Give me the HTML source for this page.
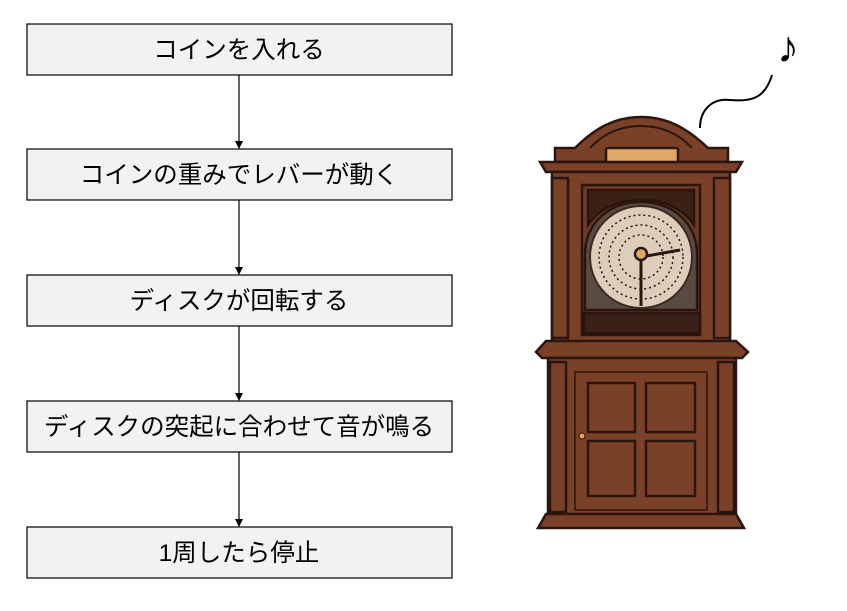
<!DOCTYPE html>
<html><head><meta charset="utf-8"><style>
body{margin:0;background:#fff;}
svg{display:block;font-family:"Liberation Sans","Noto Sans CJK JP",sans-serif;}
</style></head><body>
<svg width="847" height="611" viewBox="0 0 847 611">
<defs><marker id="a" markerWidth="8" markerHeight="8" refX="7" refY="4" orient="auto" markerUnits="userSpaceOnUse"><path d="M0,0L8,4L0,8z" fill="#000"/></marker></defs>
<g stroke="#000" stroke-width="1.2" fill="#f2f2f2">
<rect x="27" y="24" width="425" height="51"/>
<rect x="27" y="149" width="425" height="51"/>
<rect x="27" y="275" width="425" height="51"/>
<rect x="27" y="401" width="425" height="51"/>
<rect x="27" y="527" width="425" height="51"/>
</g>
<g stroke="#000" stroke-width="1.2" marker-end="url(#a)">
<line x1="239" y1="75" x2="239" y2="148"/>
<line x1="239" y1="200" x2="239" y2="274"/>
<line x1="239" y1="326" x2="239" y2="400"/>
<line x1="239" y1="452" x2="239" y2="526"/>
</g>
<g font-size="24.5" text-anchor="middle" fill="#000">
<text x="239" y="58">コインを入れる</text>
<text x="239" y="183">コインの重みでレバーが動く</text>
<text x="239" y="309">ディスクが回転する</text>
<text x="239" y="435">ディスクの突起に合わせて音が鳴る</text>
<text x="239" y="561">1周したら停止</text>
</g>
<!-- note -->
<path d="M700,128 C700,110 712,98 730,100 C752,102 765,98 772,75" fill="none" stroke="#000" stroke-width="2"/>
<text x="788" y="62" font-size="44" font-weight="bold" text-anchor="middle">♪</text>
<!-- cabinet -->
<g stroke="#2a160e" stroke-width="2.5" fill="#7a4128">
<path d="M555,162 L555,148 L575,148 C595,128 615,117 641,117 C667,117 687,128 708,148 L728,148 L728,162 Z"/>
<path d="M590,148 C605,132 622,126 641,126 C660,126 677,132 692,148" fill="none" stroke-width="2"/>
<rect x="606" y="148" width="72" height="17" rx="2" fill="#e0a864"/>
<path d="M540,162 L742,162 L736,172 L546,172 Z"/>
<rect x="552" y="172" width="178" height="170"/>
<rect x="552" y="178" width="16" height="160"/>
<rect x="714" y="178" width="16" height="160"/>
<rect x="582" y="185" width="118" height="150" fill="#6e3a24"/>
<path d="M588,190 L694,190 L694,225 C680,205 660,200 641,200 C622,200 602,205 588,225 Z" fill="#3a2016"/>
<path d="M585,310 L585,255 C585,222 610,202 641,202 C672,202 697,222 697,255 L697,310 Z" fill="#5a4b42"/>
<circle cx="641" cy="257" r="51" fill="#dfcdbb" stroke="#3a2a20" stroke-width="2"/>
<circle cx="641" cy="257" r="42" fill="none" stroke="#2a160e" stroke-width="1.5" stroke-dasharray="2 3"/>
<circle cx="641" cy="257" r="32" fill="none" stroke="#2a160e" stroke-width="1.5" stroke-dasharray="2 3"/>
<circle cx="641" cy="257" r="22" fill="none" stroke="#2a160e" stroke-width="1.5" stroke-dasharray="2 3"/>
<line x1="641" y1="257" x2="680" y2="250" stroke-width="3"/>
<line x1="641" y1="257" x2="641" y2="306" stroke-width="3"/>
<circle cx="641" cy="254" r="6" fill="#e0a864"/>
<rect x="584" y="313" width="116" height="20" fill="#3a2016"/>
<path d="M536,352 L546,341 L736,341 L748,352 L742,358 L542,358 Z"/>
<rect x="548" y="358" width="188" height="162"/>
<rect x="550" y="362" width="16" height="150"/>
<rect x="718" y="362" width="16" height="150"/>
<rect x="575" y="372" width="132" height="138" stroke-width="1.5"/>
<rect x="588" y="383" width="47" height="49"/>
<rect x="646" y="383" width="49" height="49"/>
<rect x="588" y="441" width="47" height="55"/>
<rect x="646" y="441" width="49" height="55"/>
<circle cx="582" cy="436" r="3" fill="#e0a864" stroke-width="1"/>
<path d="M546,514 L736,514 L744,528 L538,528 Z"/>
</g>
</svg>
</body></html>
